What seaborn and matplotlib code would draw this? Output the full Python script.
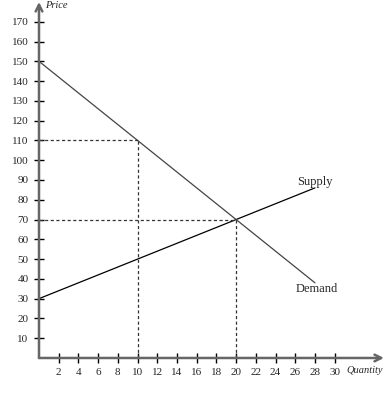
import numpy as np
import pandas as pd
import matplotlib
matplotlib.use("Agg")
import matplotlib.pyplot as plt
import seaborn as sns

quantity = [0, 10, 20, 28]
supply = [30, 50, 70, 86]
demand = [150, 110, 70, 38]
guides_q = [10, 20]
guides_p = [110, 70]
x_ticks = list(range(2, 31, 2))
y_ticks = list(range(10, 171, 10))

sns.set_theme(style="white")
plt.rcParams['font.family'] = ['Liberation Serif', 'DejaVu Serif']

df = pd.DataFrame({'quantity': quantity, 'Supply': supply, 'Demand': demand})

fig = plt.figure(figsize=(3.85, 3.96), dpi=100)
ax = fig.add_axes([0.1013, 0.096, 0.896, 0.899])

sns.lineplot(data=df, x='quantity', y='Supply', color='black', lw=0.9, ax=ax)
sns.lineplot(data=df, x='quantity', y='Demand', color='#444444', lw=0.9, ax=ax)

# dashed guides
for q, p in zip(guides_q, guides_p):
    ax.plot([0, q], [p, p], ls=(0, (2.5, 2)), color='#333333', lw=0.9)
    ax.plot([q, q], [0, p], ls=(0, (2.5, 2)), color='#333333', lw=0.9)

ax.set_xlim(0, 35)
ax.set_ylim(0, 180)
for s in ax.spines.values():
    s.set_visible(False)

# axes with arrows
arrow = dict(arrowstyle='->', color='#666666', lw=1.8, shrinkA=0, shrinkB=0)
ax.annotate('', xy=(35, 0), xytext=(0, 0), arrowprops=arrow, annotation_clip=False)
ax.annotate('', xy=(0, 180), xytext=(0, 0), arrowprops=arrow, annotation_clip=False)

ax.set_xticks(x_ticks)
ax.set_yticks(y_ticks)
ax.tick_params(direction='inout', length=7, width=1, color='black', labelsize=8,
               bottom=True, left=True, pad=4)
ax.set_xlabel('')
ax.set_ylabel('')

ax.text(0.6, 178, 'Price', style='italic', fontsize=7.5, va='center', ha='left')
ax.text(31.2, -6.3, 'Quantity', style='italic', fontsize=7.5, va='center', ha='left')
ax.text(26.2, 89, 'Supply', fontsize=9, ha='left', va='center')
ax.text(26, 35, 'Demand', fontsize=9, ha='left', va='center')

fig.savefig('out.png', dpi=100)
